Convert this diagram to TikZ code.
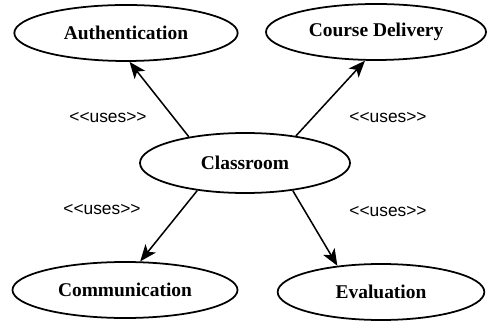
\documentclass[tikz,border=0pt]{standalone}
\usepackage{fontspec}
\setmainfont{Liberation Serif}
\newfontfamily\usesfont{Liberation Sans}
\usetikzlibrary{shapes.geometric,arrows.meta}
\begin{document}
\begin{tikzpicture}[x=0.03cm,y=-0.03cm,
	usecase/.style={ellipse,draw,line width=1.5pt,inner sep=0pt,minimum height=1.68cm,font=\fontsize{16.6}{18}\selectfont\bfseries},
	uses/.style={line width=1.3pt,-{Stealth[length=5mm,width=4mm,inset=1.3mm]}},
	stereo/.style={font=\usesfont\fontsize{14.8}{16}\selectfont}]
	\useasboundingbox (0,0) rectangle (487,321);
	% use cases
	\node[usecase,minimum width=6.7cm] (auth) at (126,33) {Authentication};
	\node[usecase,minimum width=6.6cm] (course) at (376,32) {Course Delivery};
	\node[usecase,minimum width=6.3cm,minimum height=1.8cm] (class) at (245,163) {Classroom};
	\node[usecase,minimum width=6.75cm] (comm) at (125,290) {Communication};
	\node[usecase,minimum width=6.2cm] (eval) at (381,292) {Evaluation};
	% uses relations
	\draw[uses] (class.155) -- (auth.-83);
	\draw[uses] (class.28) -- (course.-111);
	\draw[uses] (class.-150) -- (comm.62);
	\draw[uses] (class.-30) -- (eval.149);
	% stereotypes
	\node[stereo] (s1) at (108,118) {<<uses>>};
	\node[stereo] (s2) at (388,118) {<<uses>>};
	\node[stereo] (s3) at (102,210) {<<uses>>};
	\node[stereo] (s4) at (388,212) {<<uses>>};
\end{tikzpicture}
\end{document}
